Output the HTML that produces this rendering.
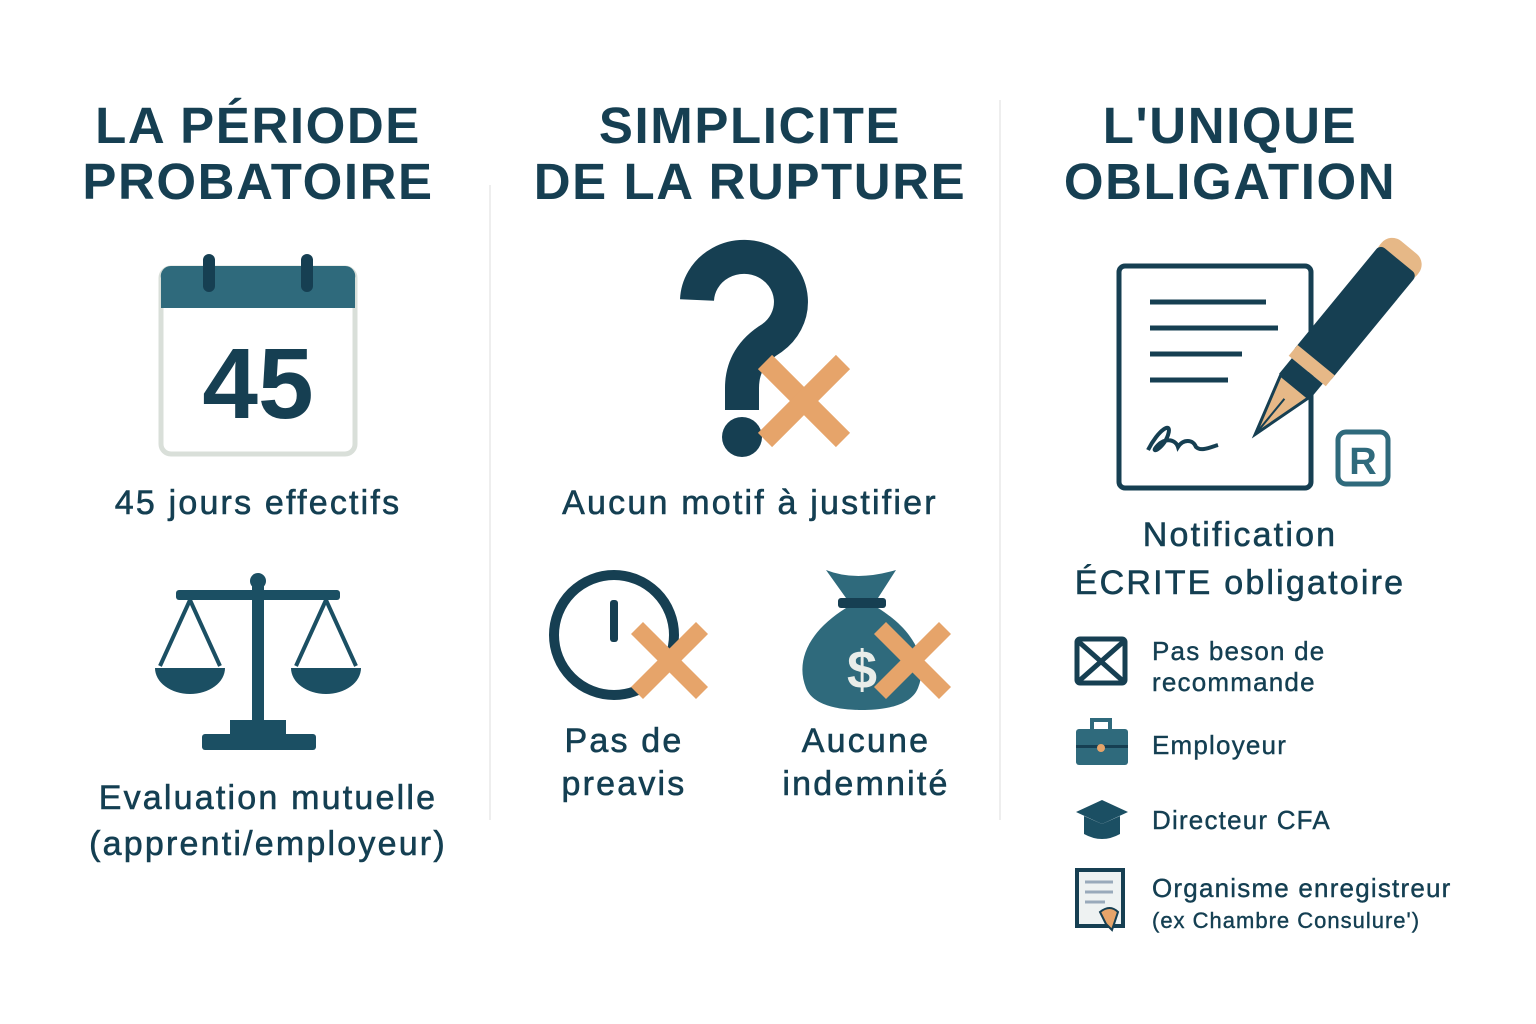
<!DOCTYPE html>
<html><head><meta charset="utf-8"><style>
body{margin:0;width:1536px;height:1024px;background:#fff;position:relative;overflow:hidden;font-family:"Liberation Sans",sans-serif;color:#143f52}
.t{position:absolute;text-align:center;white-space:nowrap}
.h{font-weight:bold;font-size:51px;line-height:56px;color:#163f52;letter-spacing:1.6px}
.b{font-size:34px;line-height:44px;-webkit-text-stroke:0.6px #143f52;letter-spacing:2.2px}
.s{font-size:26px;line-height:31px;-webkit-text-stroke:0.4px #143f52;position:absolute;white-space:nowrap;letter-spacing:1.2px}
svg{position:absolute;left:0;top:0}
</style></head><body>
<div class="t h" style="left:58px;width:400px;top:98px">LA PÉRIODE<br>PROBATOIRE</div>
<div class="t h" style="left:520px;width:460px;top:98px">SIMPLICITE<br>DE LA RUPTURE</div>
<div class="t h" style="left:1020px;width:420px;top:98px">L'UNIQUE<br>OBLIGATION</div>

<div class="t b" style="left:58px;width:400px;top:481px">45 jours effectifs</div>
<div class="t b" style="left:58px;width:420px;top:775px;line-height:46px">Evaluation mutuelle<br>(apprenti/employeur)</div>
<div class="t b" style="left:520px;width:460px;top:481px">Aucun motif à justifier</div>
<div class="t b" style="left:524px;width:200px;top:720px;line-height:43px">Pas de<br>preavis</div>
<div class="t b" style="left:766px;width:200px;top:720px;line-height:43px">Aucune<br>indemnité</div>
<div class="t b" style="left:1040px;width:400px;top:511px;line-height:48px">Notification<br>ÉCRITE obligatoire</div>
<div class="s" style="left:1152px;top:636px">Pas beson de<br>recommande</div>
<div class="s" style="left:1152px;top:730px">Employeur</div>
<div class="s" style="left:1152px;top:805px">Directeur CFA</div>
<div class="s" style="left:1152px;top:873px">Organisme enregistreur</div>
<div class="s" style="left:1152px;top:905px;font-size:22px;letter-spacing:1px">(ex Chambre Consulure')</div>

<svg width="1536" height="1024">
<line x1="490" y1="185" x2="490" y2="820" stroke="#eee" stroke-width="2"/>
<line x1="1000" y1="100" x2="1000" y2="820" stroke="#eee" stroke-width="2"/>
<!-- calendar -->
<rect x="161" y="268" width="194" height="186" rx="10" fill="#fff" stroke="#d9dfd9" stroke-width="5"/>
<path d="M161 278 a10 10 0 0 1 10 -12 h174 a10 10 0 0 1 10 12 v30 h-194z" fill="#2f6a7c"/>
<rect x="203" y="254" width="12" height="38" rx="6" fill="#163f52"/>
<rect x="301" y="254" width="12" height="38" rx="6" fill="#163f52"/>
<text x="258" y="418" text-anchor="middle" font-family="Liberation Sans" font-weight="bold" font-size="100" fill="#163f52">45</text>
<!-- scales -->
<g fill="#1b4f63">
<circle cx="258" cy="581" r="8"/>
<rect x="252" y="585" width="12" height="140"/>
<rect x="176" y="590" width="164" height="10" rx="3"/>
<rect x="230" y="720" width="56" height="14"/>
<rect x="202" y="734" width="114" height="16" rx="3"/>
<path d="M155 668 h70 a35 26 0 0 1 -70 0z"/>
<path d="M291 668 h70 a35 26 0 0 1 -70 0z"/>
</g>
<g stroke="#1b4f63" stroke-width="4" fill="none">
<path d="M190 600 L160 666 M190 600 L220 666 M326 600 L296 666 M326 600 L356 666"/>
</g>
<!-- question mark -->
<path d="M697 300 a47 45 0 1 1 75 38 q-30 18 -30 50 v22" fill="none" stroke="#163f52" stroke-width="34"/>
<circle cx="742" cy="437" r="20" fill="#163f52"/>
<g stroke="#e6a46a" stroke-width="20" stroke-linecap="butt">
<line x1="765" y1="362" x2="843" y2="440"/><line x1="843" y1="362" x2="765" y2="440"/>
</g>
<!-- clock -->
<circle cx="614" cy="635" r="60" fill="none" stroke="#163f52" stroke-width="10"/>
<rect x="610" y="600" width="8" height="42" rx="3" fill="#163f52"/>
<g stroke="#e6a46a" stroke-width="17">
<line x1="637" y1="628" x2="702" y2="693"/><line x1="702" y1="628" x2="637" y2="693"/>
</g>
<!-- bag -->
<path d="M826 570 q30 12 70 0 l-18 28 h-32z" fill="#2f6a7c"/>
<rect x="838" y="598" width="48" height="10" rx="3" fill="#163f52"/>
<path d="M846 608 h32 c40 25 50 55 40 80 c-8 20 -40 22 -56 22 c-16 0 -48 -2 -56 -22 c-10 -25 0 -55 40 -80z" fill="#2f6a7c"/>
<text x="862" y="688" text-anchor="middle" font-family="Liberation Sans" font-weight="bold" font-size="54" fill="#e9ede9">$</text>
<g stroke="#e6a46a" stroke-width="17">
<line x1="880" y1="628" x2="945" y2="693"/><line x1="945" y1="628" x2="880" y2="693"/>
</g>
<!-- document -->
<rect x="1119" y="266" width="192" height="222" rx="6" fill="#fff" stroke="#163f52" stroke-width="5"/>
<g stroke="#163f52" stroke-width="5">
<line x1="1150" y1="302" x2="1266" y2="302"/><line x1="1150" y1="328" x2="1278" y2="328"/>
<line x1="1150" y1="354" x2="1242" y2="354"/><line x1="1150" y1="380" x2="1228" y2="380"/>
</g>
<path d="M1148 450 c10 -20 25 -30 20 -15 c-5 15 -20 20 -10 10 c8 -8 18 -5 20 2 c5 -8 15 -8 18 0 c5 5 15 0 22 -2" fill="none" stroke="#163f52" stroke-width="4"/>
<!-- pen -->
<g transform="translate(1405 252) rotate(39.4)">
<rect x="-24" y="-6" width="48" height="30" rx="14" fill="#e6b887"/>
<rect x="-24" y="10" width="48" height="140" rx="6" fill="#163f52"/>
<rect x="-24" y="140" width="48" height="14" fill="#e6b887"/>
<rect x="-20" y="154" width="40" height="20" fill="#163f52"/>
<path d="M-18 174 h36 l-18 62z" fill="#e6b887" stroke="#163f52" stroke-width="3"/>
<line x1="0" y1="190" x2="0" y2="232" stroke="#163f52" stroke-width="2"/>
</g>
<rect x="1338" y="432" width="50" height="52" rx="8" fill="#fff" stroke="#2f6a7c" stroke-width="5"/>
<text x="1363" y="474" text-anchor="middle" font-family="Liberation Sans" font-weight="bold" font-size="38" fill="#2f6a7c">R</text>
<!-- small icons -->
<rect x="1077" y="639" width="48" height="44" rx="3" fill="#fff" stroke="#163f52" stroke-width="5"/>
<path d="M1079 642 L1123 681 M1123 642 L1079 681" stroke="#163f52" stroke-width="5"/>
<rect x="1076" y="729" width="52" height="36" rx="3" fill="#2f6a7c"/>
<rect x="1092" y="720" width="18" height="12" fill="none" stroke="#2f6a7c" stroke-width="4"/>
<rect x="1076" y="745" width="52" height="3" fill="#163f52"/>
<circle cx="1101" cy="748" r="4" fill="#e6a46a"/>
<path d="M1076 812 l26 -12 l26 12 l-26 12z" fill="#1b4f63"/>
<path d="M1084 816 v18 q18 10 36 0 v-18 l-18 8z" fill="#1b4f63"/>
<rect x="1077" y="870" width="46" height="56" fill="#eef2f2" stroke="#163f52" stroke-width="4"/>
<g stroke="#9ab" stroke-width="3"><line x1="1085" y1="882" x2="1113" y2="882"/><line x1="1085" y1="892" x2="1113" y2="892"/><line x1="1085" y1="902" x2="1105" y2="902"/></g>
<path d="M1100 912 q10 -8 18 0 l-6 18 l-6 -6z" fill="#e6a46a" stroke="#163f52" stroke-width="2"/>
</svg>
</body></html>
